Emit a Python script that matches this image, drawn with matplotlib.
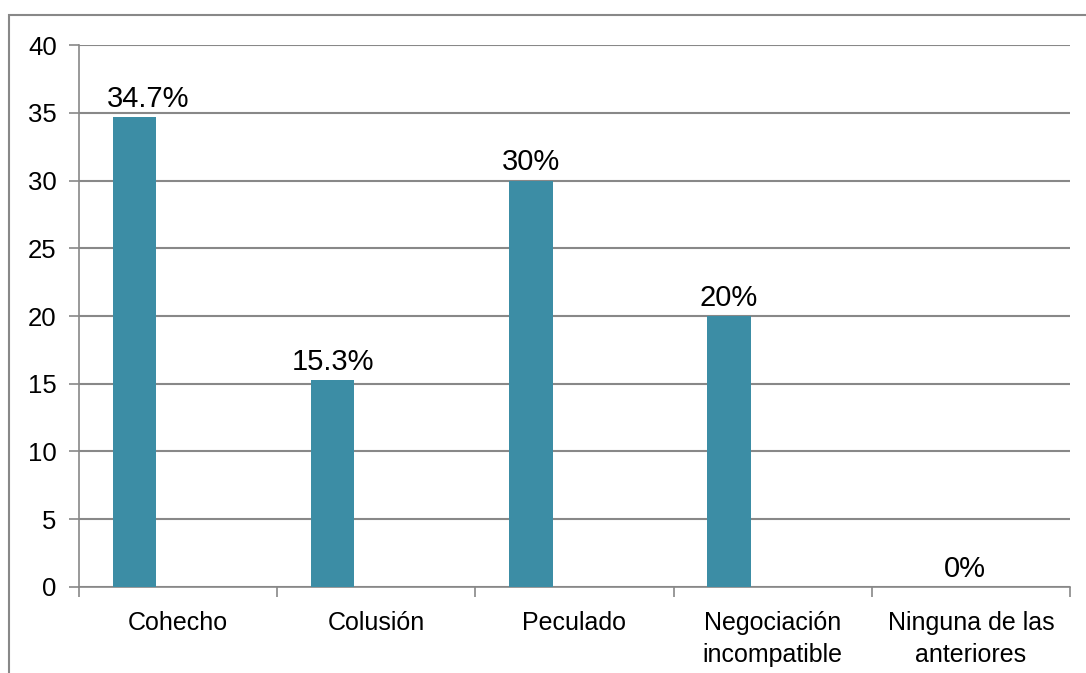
import matplotlib.pyplot as plt
import matplotlib.patches as patches
import numpy as np

categories = ["Cohecho", "Colusión", "Peculado", "Negociación\nincompatible", "Ninguna de las\nanteriores"]
values = [34.7, 15.3, 30, 20, 0]
labels = ["34.7%", "15.3%", "30%", "20%", "0%"]
yticks = [0, 5, 10, 15, 20, 25, 30, 35, 40]

plt.rcParams['font.family'] = ['Liberation Sans', 'DejaVu Sans']

fig = plt.figure(figsize=(10.86, 6.73), dpi=100, facecolor="white")
ax = fig.add_axes([0.0727, 0.1278, 0.9125, 0.8053])

grid_col = "#888888"
bar_col = "#3C8DA5"

x = np.arange(len(categories))
bw = 0.22
bx = x - 0.22
ax.bar(bx, values, width=bw, color=bar_col, zorder=3)

for i, (v, lab) in enumerate(zip(values, labels)):
    lx = bx[i] if v > 0 else x[i] - 0.03
    ax.text(lx + 0.07 if i == 0 else lx, v + 0.3, lab, ha="center", va="bottom", fontsize=21)

ax.set_xlim(-0.5, len(categories) - 0.5)
ax.set_ylim(0, 40)
ax.set_yticks(yticks)
ax.tick_params(axis="y", labelsize=18.5, length=7, width=1.2, color=grid_col, pad=9)
ax.yaxis.grid(True, color=grid_col, linewidth=1.5, zorder=0)

ax.set_xticks(x)
ax.set_xticklabels(categories, fontsize=18, linespacing=1.45)
ax.tick_params(axis="x", length=0, pad=17)
ax.set_xticks(np.arange(len(categories) + 1) - 0.5, minor=True)
ax.tick_params(axis="x", which="minor", length=7, width=1.2, color=grid_col)

for s in ["top", "right"]:
    ax.spines[s].set_visible(False)
for s in ["left", "bottom"]:
    ax.spines[s].set_color(grid_col)
    ax.spines[s].set_linewidth(1.2)

# outer chart frame, cut off at right and bottom
frame = patches.Rectangle((9 / 1086, -0.05), 1.1, 1 - 15 / 673 + 0.05,
                          transform=fig.transFigure, fill=False,
                          edgecolor=grid_col, linewidth=1.5)
fig.patches.append(frame)

fig.savefig("out.png", dpi=100)
